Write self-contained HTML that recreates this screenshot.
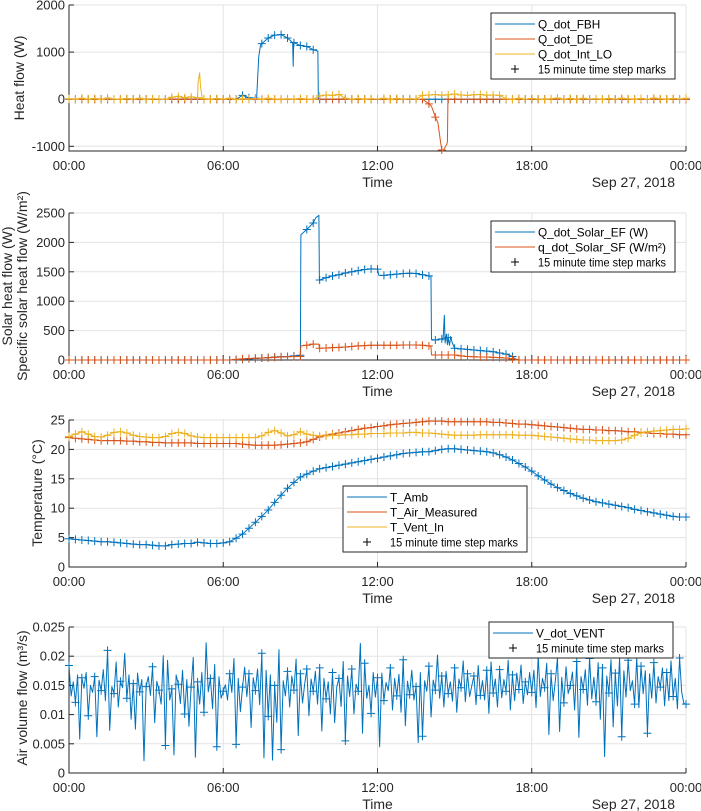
<!DOCTYPE html>
<html><head><meta charset="utf-8"><style>
html,body{margin:0;padding:0;background:#fff;}
svg{display:block;font-family:"Liberation Sans",Arial,sans-serif;}
</style></head><body>
<svg id="fig" width="701" height="811" viewBox="0 0 701 811" xmlns="http://www.w3.org/2000/svg"></svg>
<script>
// ---------- shared axis data ----------
const xTickHours = [0, 6, 12, 18, 24];
const xTickLabels = ['00:00', '06:00', '12:00', '18:00', '00:00'];

// ---------- panel 1: heat flow ----------
const p1Ticks = [-1000, 0, 1000, 2000];
const p1TickLabels = ['-1000', '0', '1000', '2000'];
const fbhQ = [0,0,0,0,0,0,0,0,0,0,0,0,0,0,0,0,0,0,0,0,0,0,0,0,0,0,0,80,30,20,1180,1300,1360,1370,1300,1200,1140,1120,1050,0,0,0,0,0,0,0,0,0,0,0,0,0,0,0,0,0,0,0,0,0,0,0,0,0,0,0,0,0,0,0,0,0,0,0,0,0,0,0,0,0,0,0,0,0,0,0,0,0,0,0,0,0,0,0,0,0,0];
const fbhExtraT = [7.3, 7.38, 7.45, 8.7, 8.72, 8.74, 9.68, 9.7];
const fbhExtraV = [40, 900, 1150, 1200, 700, 1180, 1020, 0];
const deQ = [0,0,0,0,0,0,0,0,0,0,0,0,0,0,0,0,0,0,0,0,0,0,0,0,0,0,0,0,0,0,0,0,0,0,0,0,0,0,0,0,0,0,0,0,0,0,0,0,0,0,0,0,0,0,0,0,-100,-380,-1080,0,0,0,0,0,0,0,0,0,0,0,0,0,0,0,0,0,0,0,0,0,0,0,0,0,0,0,0,0,0,0,0,0,0,0,0,0,0];
const deExtraT = [14.1, 14.2, 14.35, 14.45, 14.55, 14.7, 14.72, 14.74];
const deExtraV = [-150, -300, -500, -900, -1100, -950, -900, 0];
const intLoQ = [10,-5,20,0,15,-10,25,5,-5,15,0,20,-10,10,5,-5, 40,60,30,50, 30,10,-5,15,0,20,-10, 10,0,15,-5,20,5,-10,10,0,15,5,-5, 70,90,80,100, 20,0,15,-5,10,5,20,-10,15,0,10,5, 80,90,100,85,95,110,90,80,95,100,85,90,80, 10,-5,20,0,15,5,-10,10,25,0,15,-5,20,5,10,-5,15,0,20,10,-5,15,0,25,10,-5,15,5,20];
const intLoExtraT = [5.02, 5.08, 5.12, 5.18];
const intLoExtraV = [350, 560, 250, 20];

// ---------- panel 2: solar ----------
const p2Ticks = [0, 500, 1000, 1500, 2000, 2500];
const p2TickLabels = ['0', '500', '1000', '1500', '2000', '2500'];
const solarEfQ = [0,0,0,0,0,0,0,0,0,0,0,0,0,0,0,0,0,0,0,0,0,0,0,0,0,0,5,10,20,25,35,40,50,55,60,70,80,2220,2330,1360,1400,1430,1450,1480,1500,1520,1540,1550,1545,1440,1450,1460,1470,1475,1470,1450,1430,340,360,380,200,190,180,170,160,150,140,120,100,60,0,0,0,0,0,0,0,0,0,0,0,0,0,0,0,0,0,0,0,0,0,0,0,0,0,0,0];
const solarEfExtraT = [9.02, 9.6, 9.72, 9.74, 12.05, 14.08, 14.1, 14.55, 14.6, 14.63, 14.68, 14.72, 14.8, 14.85, 14.9, 17.35];
const solarEfExtraV = [2130, 2420, 2460, 1350, 1440, 1420, 350, 340, 760, 290, 440, 260, 250, 400, 300, 20];
const solarSfQ = [0,0,0,0,0,0,0,0,0,0,0,0,0,0,0,0,0,0,0,0,0,0,0,0,0,0,10,20,25,30,35,40,45,50,55,60,60,250,270,200,205,210,215,220,230,240,245,250,250,250,250,250,255,255,255,250,240,85,85,85,85,70,60,55,50,50,45,40,35,20,0,0,0,0,0,0,0,0,0,0,0,0,0,0,0,0,0,0,0,0,0,0,0,0,0,0,0];
const solarSfExtraT = [9.02, 9.72, 9.74, 14.08, 14.1];
const solarSfExtraV = [240, 270, 200, 230, 90];

// ---------- panel 3: temperature ----------
const p3Ticks = [0, 5, 10, 15, 20, 25];
const p3TickLabels = ['0', '5', '10', '15', '20', '25'];
const tAmb = [4.8,4.7,4.6,4.5,4.4,4.3,4.3,4.2,4.1,4.0,3.9,3.8,3.8,3.7,3.6,3.6,3.8,3.9,4.0,4.0,4.2,4.1,4.0,4.0,4.1,4.3,4.9,5.6,6.6,7.6,8.6,9.7,11.0,12.2,13.4,14.4,15.3,15.8,16.3,16.7,16.9,17.1,17.3,17.5,17.7,17.9,18.1,18.3,18.5,18.7,18.9,19.1,19.3,19.4,19.5,19.6,19.6,19.8,20.0,20.1,20.1,20.0,19.9,19.8,19.7,19.6,19.4,19.1,18.7,18.2,17.6,17.0,16.3,15.5,14.8,14.1,13.5,13.0,12.5,12.1,11.7,11.4,11.1,10.9,10.7,10.5,10.3,10.1,9.8,9.6,9.4,9.2,9.0,8.8,8.6,8.5,8.5];
const tAir = [22.0,21.9,21.8,21.7,21.6,21.5,21.5,21.5,21.5,21.4,21.4,21.3,21.3,21.2,21.2,21.1,21.1,21.1,21.1,21.1,21.0,21.0,21.0,21.0,21.0,21.0,21.0,20.9,20.8,20.7,20.7,20.7,20.7,20.8,20.9,21.0,21.1,21.3,21.7,22.1,22.4,22.6,22.8,23.0,23.2,23.4,23.6,23.7,23.9,24.0,24.2,24.3,24.4,24.5,24.6,24.7,24.8,24.8,24.8,24.7,24.7,24.7,24.7,24.7,24.7,24.7,24.6,24.6,24.5,24.4,24.3,24.3,24.2,24.1,24.0,23.9,23.8,23.7,23.6,23.5,23.4,23.4,23.3,23.3,23.2,23.2,23.1,23.0,23.0,22.9,22.8,22.7,22.7,22.6,22.6,22.5,22.5];
const tVent = [22.2,22.6,23.0,22.6,22.2,22.1,22.4,22.9,23.0,22.8,22.4,22.2,22.1,22.0,22.0,22.2,22.7,22.9,22.7,22.3,22.1,22.0,22.0,22.0,22.0,22.0,22.0,22.0,22.0,22.0,22.3,22.9,23.2,22.8,22.3,22.5,23.0,22.6,22.4,22.3,22.3,22.4,22.4,22.5,22.5,22.6,22.6,22.7,22.7,22.7,22.8,22.8,22.8,22.9,22.9,22.8,22.8,22.7,22.6,22.5,22.4,22.4,22.4,22.4,22.5,22.5,22.5,22.5,22.5,22.5,22.4,22.4,22.4,22.3,22.2,22.1,22.0,21.9,21.8,21.7,21.6,21.6,21.5,21.5,21.5,21.5,21.6,21.9,22.4,22.8,23.0,23.1,23.2,23.3,23.4,23.4,23.5];

// ---------- panel 4: air volume flow (5-minute samples) ----------
const p4Ticks = [0, 0.005, 0.01, 0.015, 0.02, 0.025];
const p4TickLabels = ['0', '0.005', '0.01', '0.015', '0.02', '0.025'];
const vDotVent = [
.0184,.0132,.0156,.0121,.0168,.0058,.0163,.0145,.0172,.0098,.0150,.0138,.0165,.0062,.0159,.0141,.0177,.0124,.0210,.0073,.0148,.0136,.0190,.0113,
.0157,.0146,.0205,.0128,.0168,.0092,.0153,.0075,.0171,.0139,.0160,.0021,.0148,.0165,.0133,.0182,.0086,.0157,.0142,.0118,.0201,.0047,.0193,.0125,
.0144,.0031,.0168,.0152,.0119,.0176,.0101,.0160,.0080,.0147,.0198,.0027,.0156,.0118,.0172,.0104,.0223,.0139,.0162,.0110,.0186,.0045,.0165,.0128,
.0140,.0151,.0125,.0170,.0138,.0196,.0049,.0162,.0105,.0147,.0181,.0131,.0170,.0078,.0163,.0141,.0178,.0117,.0205,.0026,.0176,.0097,.0168,.0022,
.0150,.0087,.0211,.0040,.0158,.0132,.0174,.0113,.0166,.0142,.0195,.0064,.0170,.0120,.0152,.0178,.0098,.0161,.0140,.0174,.0118,.0180,.0072,.0162,
.0127,.0156,.0101,.0172,.0086,.0148,.0162,.0114,.0191,.0055,.0166,.0131,.0178,.0101,.0152,.0140,.0222,.0068,.0188,.0128,.0150,.0102,.0172,.0130,
.0163,.0045,.0171,.0124,.0155,.0141,.0180,.0108,.0162,.0132,.0169,.0104,.0194,.0081,.0157,.0134,.0176,.0125,.0148,.0052,.0172,.0063,.0158,.0140,
.0183,.0096,.0159,.0142,.0202,.0128,.0166,.0113,.0174,.0136,.0156,.0123,.0180,.0104,.0161,.0146,.0192,.0122,.0170,.0131,.0149,.0166,.0117,.0184,
.0133,.0158,.0125,.0176,.0102,.0190,.0137,.0161,.0113,.0177,.0129,.0160,.0140,.0193,.0108,.0168,.0124,.0171,.0143,.0185,.0119,.0156,.0134,.0172,
.0138,.0176,.0112,.0199,.0131,.0162,.0146,.0188,.0066,.0170,.0124,.0158,.0197,.0071,.0164,.0120,.0182,.0136,.0150,.0173,.0108,.0191,.0061,.0165,
.0143,.0177,.0116,.0196,.0127,.0164,.0122,.0189,.0092,.0180,.0028,.0166,.0137,.0194,.0079,.0171,.0115,.0198,.0062,.0175,.0130,.0193,.0141,.0158,
.0118,.0197,.0112,.0183,.0136,.0175,.0068,.0170,.0128,.0189,.0120,.0165,.0147,.0180,.0115,.0172,.0124,.0192,.0131,.0162,.0110,.0197,.0138,.0119,
.0118];

// ---------- drawing ----------
const NS = 'http://www.w3.org/2000/svg';
const svg = document.getElementById('fig');
const X0 = 69, X1 = 686;
const BLUE = '#0072BD', RED = '#D95319', YEL = '#EDB120', AX = '#262626';
function mk(tag, attrs, parent) {
  const e = document.createElementNS(NS, tag);
  for (const k in attrs) e.setAttribute(k, attrs[k]);
  (parent || svg).appendChild(e);
  return e;
}
function xs(h) { return X0 + h / 24 * (X1 - X0); }

function axes(name, top, bot, ymin, ymax, ticks, labels) {
  const ys = v => bot - (v - ymin) / (ymax - ymin) * (bot - top);
  const g = mk('g', {});
  
  
  ticks.forEach((t, i) => {
    const y = ys(t);
    const gl = mk('line', {x1: X0, x2: X1, y1: y, y2: y, stroke: '#e3e3e3', 'stroke-width': 1}, g);
    
    
    const tk = mk('line', {x1: X0, x2: X0 + 5, y1: y, y2: y, stroke: AX, 'stroke-width': 1}, g);
    
    
    const tl = mk('text', {x: X0 - 4, y: y + 4.5, 'text-anchor': 'end', 'font-size': 13, fill: AX}, g);
    tl.textContent = labels[i];
    
    
  });
  xTickHours.forEach((h, i) => {
    const x = xs(h);
    if (h > 0) {
      const gl = mk('line', {x1: x, x2: x, y1: top, y2: bot, stroke: '#e3e3e3', 'stroke-width': 1}, g);
      
      
    }
    const tk = mk('line', {x1: x, x2: x, y1: bot, y2: bot - 5, stroke: AX, 'stroke-width': 1}, g);
    
    
    const tl = mk('text', {x: x, y: bot + 19, 'text-anchor': 'middle', 'font-size': 13, fill: AX}, g);
    tl.textContent = xTickLabels[i];
    
    
  });
  const la = mk('path', {d: `M${X0} ${top}V${bot}H${X1}`, fill: 'none', stroke: AX, 'stroke-width': 1}, g);
  
  
  const tt = mk('text', {x: xs(12), y: bot + 36, 'text-anchor': 'middle', 'font-size': 14, fill: AX}, g);
  tt.textContent = 'Time';
  
  
  const dt = mk('text', {x: 675, y: bot + 36, 'text-anchor': 'end', 'font-size': 14, fill: AX}, g);
  dt.textContent = 'Sep 27, 2018';
  
  
  return ys;
}

function series(name, ys, qVals, stepH, extraT, extraV, color) {
  const pts = qVals.map((v, i) => [i * stepH, v]);
  (extraT || []).forEach((t, i) => pts.push([t, extraV[i]]));
  pts.sort((a, b) => a[0] - b[0]);
  const d = pts.map((p, i) => (i ? 'L' : 'M') + xs(p[0]).toFixed(2) + ' ' + ys(p[1]).toFixed(2)).join('');
  const ln = mk('path', {d: d, fill: 'none', stroke: color, 'stroke-width': 1, 'stroke-linejoin': 'round'});
  
  
}
function marks(name, ys, vals, stepH, every, color) {
  let d = '';
  for (let i = 0; i < vals.length; i += every) {
    const x = xs(i * stepH), y = ys(vals[i]);
    d += `M${(x - 4).toFixed(2)} ${y.toFixed(2)}h8M${x.toFixed(2)} ${(y - 4).toFixed(2)}v8`;
  }
  const m = mk('path', {d: d, fill: 'none', stroke: color, 'stroke-width': 1});
  
  
}
function legend(name, x, y, w, entries) {
  const h = entries.length * 15 + 6;
  const g = mk('g', {});
  
  
  mk('rect', {x: x, y: y, width: w, height: h, fill: '#fff', stroke: AX, 'stroke-width': 1}, g);
  entries.forEach((e, i) => {
    const cy = y + 11 + i * 15;
    if (e[1]) {
      const l = mk('line', {x1: x + 4, x2: x + 44, y1: cy, y2: cy, stroke: e[1], 'stroke-width': 1}, g);
      
      
    } else {
      const l = mk('path', {d: `M${x + 20} ${cy}h8M${x + 24} ${cy - 4}v8`, stroke: '#000', 'stroke-width': 1}, g);
      
      
    }
    const t = mk('text', {x: x + 47, y: cy + 4.5, 'font-size': 11.8, fill: '#000'}, g);
    t.textContent = e[0];
    if (e[0].length > 20) { t.setAttribute('textLength', 128); t.setAttribute('lengthAdjust', 'spacingAndGlyphs'); }
    
    
  });
}
function ylabel(name, text, x, cy) {
  const t = mk('text', {x: 0, y: 0, transform: `translate(${x},${cy}) rotate(-90)`, 'text-anchor': 'middle', 'font-size': 14, fill: AX});
  t.textContent = text;
  
  
}

// Panel 1
const ys1 = axes('heat-flow', 5, 151, -1100, 2000, p1Ticks, p1TickLabels);
series('q-dot-fbh', ys1, fbhQ, 0.25, fbhExtraT, fbhExtraV, BLUE);
marks('q-dot-fbh', ys1, fbhQ, 0.25, 1, BLUE);
series('q-dot-de', ys1, deQ, 0.25, deExtraT, deExtraV, RED);
marks('q-dot-de', ys1, deQ, 0.25, 1, RED);
series('q-dot-int-lo', ys1, intLoQ, 0.25, intLoExtraT, intLoExtraV, YEL);
marks('q-dot-int-lo', ys1, intLoQ, 0.25, 1, YEL);
ylabel('y-axis-title-heat-flow', 'Heat flow (W)', 24, 78);
legend('legend-heat-flow', 491, 13, 184, [['Q_dot_FBH', BLUE], ['Q_dot_DE', RED], ['Q_dot_Int_LO', YEL], ['15 minute time step marks', null]]);

// Panel 2
const ys2 = axes('solar', 213, 360, 0, 2500, p2Ticks, p2TickLabels);
series('q-dot-solar-ef', ys2, solarEfQ, 0.25, solarEfExtraT, solarEfExtraV, BLUE);
marks('q-dot-solar-ef', ys2, solarEfQ, 0.25, 1, BLUE);
series('q-dot-solar-sf', ys2, solarSfQ, 0.25, solarSfExtraT, solarSfExtraV, RED);
marks('q-dot-solar-sf', ys2, solarSfQ, 0.25, 1, RED);
ylabel('y-axis-title-solar', 'Solar heat flow (W)', 12, 286);
ylabel('y-axis-title-specific-solar', 'Specific solar heat flow (W/m²)', 27, 286);
legend('legend-solar', 491, 221, 184, [['Q_dot_Solar_EF (W)', BLUE], ['q_dot_Solar_SF (W/m²)', RED], ['15 minute time step marks', null]]);

// Panel 3
const ys3 = axes('temperature', 420, 567, 0, 25, p3Ticks, p3TickLabels);
series('t-amb', ys3, tAmb, 0.25, null, null, BLUE);
marks('t-amb', ys3, tAmb, 0.25, 1, BLUE);
series('t-air-measured', ys3, tAir, 0.25, null, null, RED);
marks('t-air-measured', ys3, tAir, 0.25, 1, RED);
series('t-vent-in', ys3, tVent, 0.25, null, null, YEL);
marks('t-vent-in', ys3, tVent, 0.25, 1, YEL);
ylabel('y-axis-title-temperature', 'Temperature (°C)', 42, 493);
legend('legend-temperature', 343, 486, 184, [['T_Amb', BLUE], ['T_Air_Measured', RED], ['T_Vent_In', YEL], ['15 minute time step marks', null]]);

// Panel 4
const ys4 = axes('air-volume', 627, 773, 0, 0.025, p4Ticks, p4TickLabels);
series('v-dot-vent', ys4, vDotVent, 24 / 288, null, null, BLUE);
marks('v-dot-vent', ys4, vDotVent, 24 / 288, 3, BLUE);
ylabel('y-axis-title-air-volume', 'Air volume flow (m³/s)', 27, 698);
legend('legend-air-volume', 489, 622, 184, [['V_dot_VENT', BLUE], ['15 minute time step marks', null]]);
</script>
</body></html>
